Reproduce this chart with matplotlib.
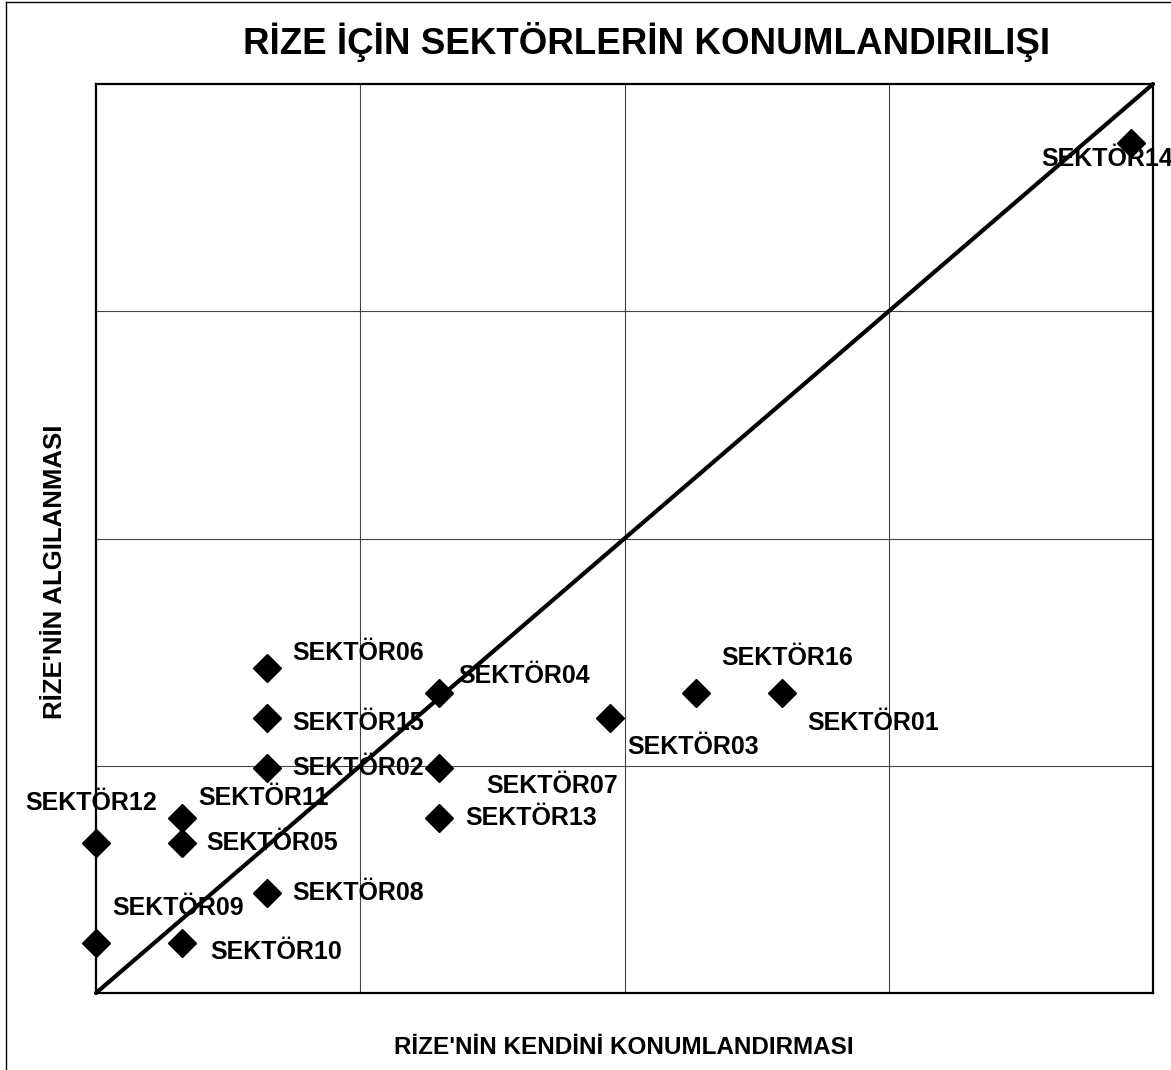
import matplotlib
matplotlib.use('Agg')
import matplotlib.pyplot as plt
from matplotlib.lines import Line2D

plt.rcParams['font.family'] = ['Liberation Sans', 'DejaVu Sans']

# sector names and their positions (x: self positioning, y: perception)
sectors = ['SEKTÖR01', 'SEKTÖR02', 'SEKTÖR03', 'SEKTÖR04', 'SEKTÖR05',
           'SEKTÖR06', 'SEKTÖR07', 'SEKTÖR08', 'SEKTÖR09', 'SEKTÖR10',
           'SEKTÖR11', 'SEKTÖR12', 'SEKTÖR13', 'SEKTÖR14', 'SEKTÖR15',
           'SEKTÖR16']
kendi = [8, 2, 6, 4, 1, 2, 4, 2, 0, 1, 1, 0, 4, 12.07, 2, 7]
algi = [12, 9, 11, 12, 6, 13, 9, 4, 2, 2, 7, 6, 7, 34, 11, 12]

title = 'RİZE İÇİN SEKTÖRLERİN KONUMLANDIRILIŞI'
xlabel = "RİZE'NİN KENDİNİ KONUMLANDIRMASI"
ylabel = "RİZE'NİN ALGILANMASI"

XMAX = 12.33
YMAX = 36.36

# label offsets in pixels (dx, dy), text left-aligned
offsets = [(25, -30), (25, 0), (17, -29), (19, 17), (25, 0),
           (25, 15), (47, -18), (25, 0), (16, 35), (29, -9),
           (17, 20), (-71, 40), (26, 0), (-89, -16), (25, -5),
           (25, 35)]

W, H = 1171, 1070
fig = plt.figure(figsize=(W / 100, H / 100), dpi=100)
ax = fig.add_axes([96 / W, 1 - 993 / H, 1057 / W, 909 / H])

ax.set_xlim(0, XMAX)
ax.set_ylim(0, YMAX)
ax.set_xticks([XMAX * i / 4 for i in range(1, 4)])
ax.set_yticks([YMAX * i / 4 for i in range(1, 4)])
ax.tick_params(length=0, labelbottom=False, labelleft=False)
ax.grid(True, color='#444444', linewidth=0.8)
for sp in ax.spines.values():
    sp.set_linewidth(1.6)
    sp.set_color('black')

ax.plot(kendi, algi, linestyle='none', marker='D', markersize=14.5,
        color='black', zorder=3, clip_on=False)
ax.plot([0, XMAX], [0, YMAX], color='black', linewidth=3,
        solid_capstyle='round', zorder=5, clip_on=False)

for name, x, y, off in zip(sectors, kendi, algi, offsets):
    ax.annotate(name, (x, y), xytext=off, textcoords='offset pixels',
                ha='left', va='center', fontsize=18, fontweight='bold',
                zorder=4, annotation_clip=False)

fig.text(647 / W, 1 - 42 / H, title, ha='center', va='center',
         fontsize=26.5, fontweight='bold')
fig.text(624 / W, 1 - 1047 / H, xlabel, ha='center', va='center',
         fontsize=17.5, fontweight='bold')
fig.text(55 / W, 1 - 572 / H, ylabel, ha='center', va='center',
         rotation=90, fontsize=18.5, fontweight='bold')

# outer frame (only left and top visible in the original crop)
fig.add_artist(Line2D([6 / W, 6 / W], [0, 1 - 2 / H], color='black',
                      linewidth=1, transform=fig.transFigure))
fig.add_artist(Line2D([6 / W, 1], [1 - 2 / H, 1 - 2 / H], color='black',
                      linewidth=1, transform=fig.transFigure))

fig.savefig('out.png', dpi=100)
